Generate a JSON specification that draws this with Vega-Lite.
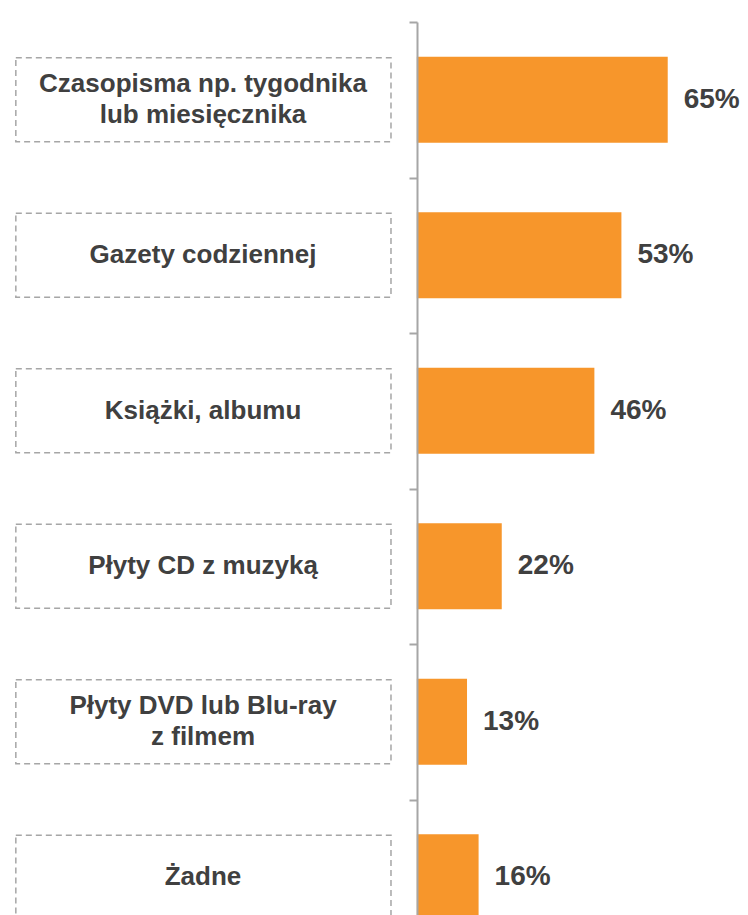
{
  "$schema": "https://vega.github.io/schema/vega-lite/v6.json",
  "width": 748,
  "height": 933,
  "padding": {"left": 0, "right": 0, "top": 22, "bottom": 0},
  "autosize": {"type": "none"},
  "background": "white",
  "config": {"view": {"stroke": null}},
  "data": {"values": [
    {"cat": "Czasopisma np. tygodnika\nlub miesięcznika", "value": 0.65},
    {"cat": "Gazety codziennej", "value": 0.53},
    {"cat": "Książki, albumu", "value": 0.46},
    {"cat": "Płyty CD z muzyką", "value": 0.22},
    {"cat": "Płyty DVD lub Blu-ray\nz filmem", "value": 0.13},
    {"cat": "Żadne", "value": 0.16}
  ]},
  "encoding": {
    "y": {
      "field": "cat", "type": "nominal", "sort": null,
      "scale": {"paddingInner": 0, "paddingOuter": 0},
      "axis": {
        "title": null, "labels": false, "offset": -417,
        "tickBand": "extent", "tickSize": 8, "tickColor": "#A6A6A6", "tickWidth": 2,
        "domainColor": "#A6A6A6", "domainWidth": 2, "grid": false
      }
    }
  },
  "layer": [
    {
      "mark": {"type": "rect", "fill": null, "fillOpacity": 0, "stroke": "#A6A6A6", "strokeWidth": 1.5, "strokeDash": [6, 4], "height": {"band": 0.54}},
      "encoding": {
        "x": {"datum": -1.039, "type": "quantitative", "scale": {"domain": [-1.08, 0.858], "nice": false, "zero": false}, "axis": null},
        "x2": {"datum": -0.067}
      }
    },
    {
      "transform": [{"filter": "!test(/\\n/, datum.cat)"}],
      "mark": {"type": "text", "font": "Liberation Sans", "fontWeight": "bold", "fontSize": 26, "color": "#404040", "align": "center", "baseline": "middle", "lineBreak": "\n", "lineHeight": 31},
      "encoding": {
        "x": {"datum": -0.554, "type": "quantitative"},
        "text": {"field": "cat"}
      }
    },
    {
      "transform": [{"filter": "test(/\\n/, datum.cat)"}],
      "mark": {"type": "text", "font": "Liberation Sans", "fontWeight": "bold", "fontSize": 26, "color": "#404040", "align": "center", "baseline": "middle", "lineBreak": "\n", "lineHeight": 31, "dy": -16},
      "encoding": {
        "x": {"datum": -0.554, "type": "quantitative"},
        "text": {"field": "cat"}
      }
    },
    {
      "mark": {"type": "bar", "color": "#F7962B", "height": {"band": 0.553}},
      "encoding": {
        "x": {"field": "value", "type": "quantitative"}
      }
    },
    {
      "mark": {"type": "text", "font": "Liberation Sans", "fontWeight": "bold", "fontSize": 28, "color": "#404040", "align": "left", "baseline": "middle", "dx": 16},
      "encoding": {
        "x": {"field": "value", "type": "quantitative"},
        "text": {"field": "value", "format": ".0%"}
      }
    }
  ]
}
